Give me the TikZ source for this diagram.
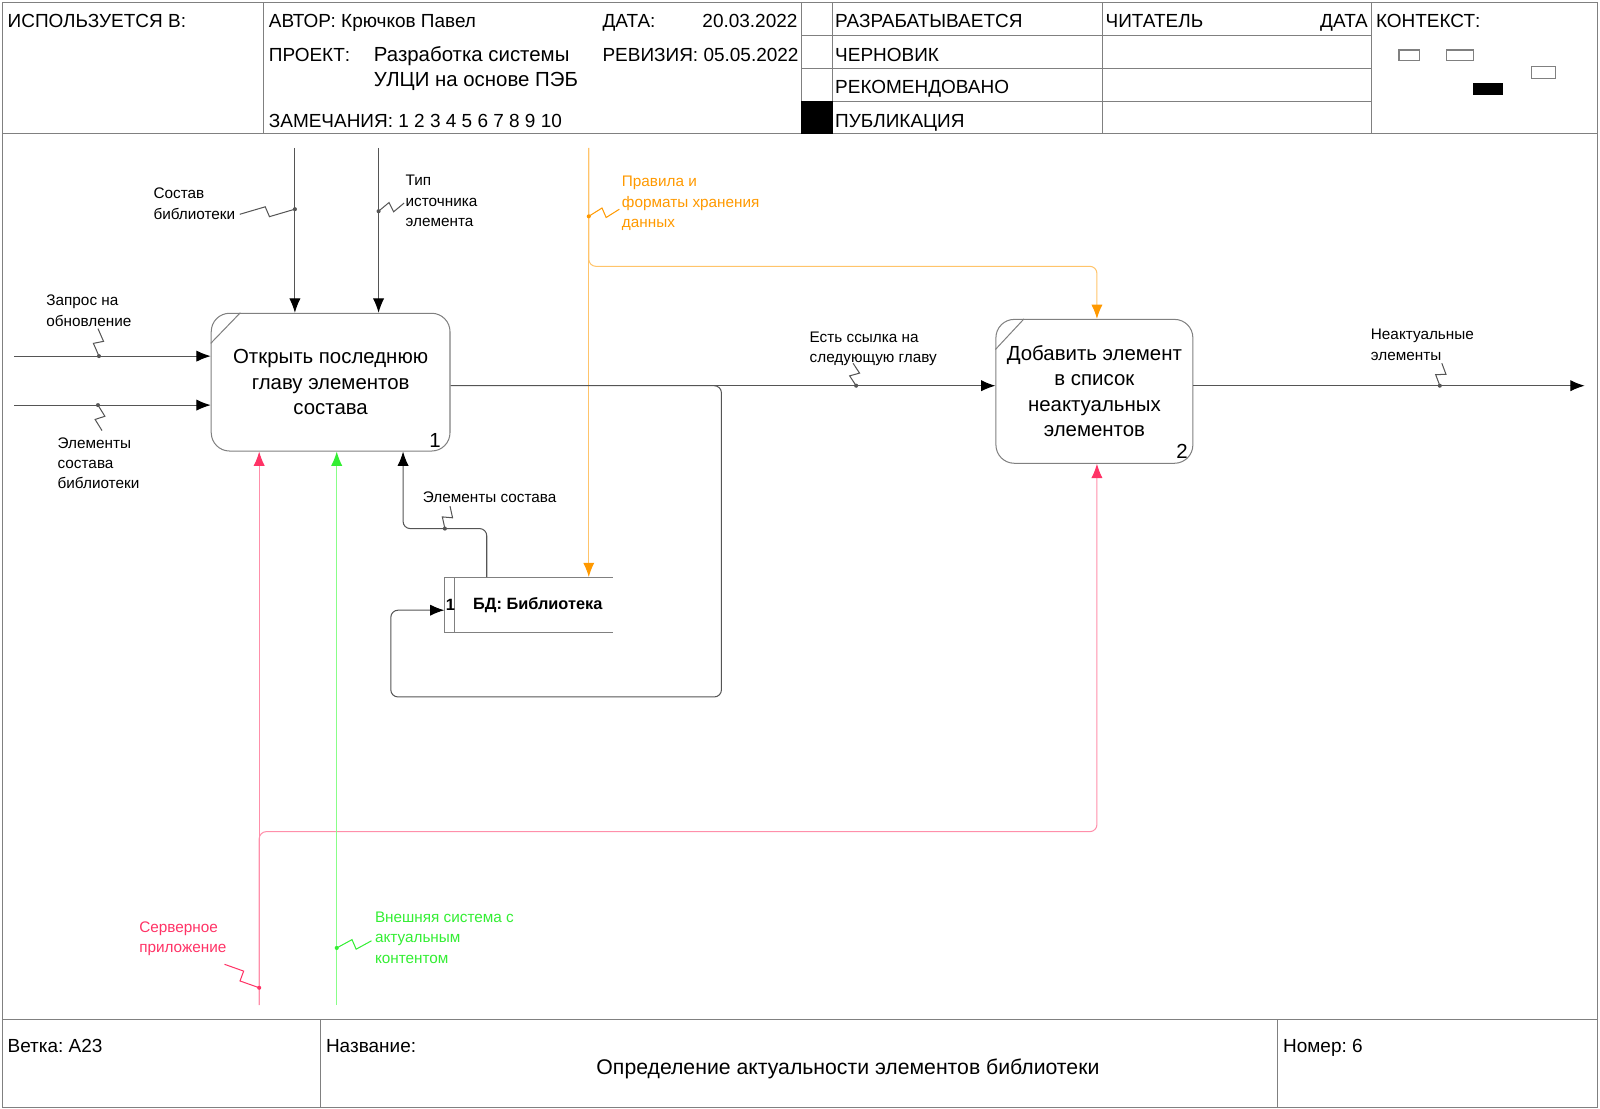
\documentclass[tikz,border=0pt]{standalone}
\usepackage{fontspec}
\setmainfont{Liberation Sans}
\usepackage{tikz}
\usetikzlibrary{calc}
\usetikzlibrary{arrows.meta}
\tikzset{>={Latex[length=7pt,width=5.5pt]}}
\frenchspacing
\definecolor{mygray}{HTML}{808080}
\definecolor{myline}{HTML}{555555}
\definecolor{myorange}{HTML}{FF9900}
\definecolor{myorangeline}{HTML}{FFC46B}
\definecolor{mypink}{HTML}{FF3366}
\definecolor{mypinkline}{HTML}{FF8FAA}
\definecolor{mygreen}{HTML}{33EE33}
\definecolor{mygreenline}{HTML}{88FF88}
\newcommand{\hdrfont}{\fontsize{9.3pt}{11pt}\selectfont}
\newcommand{\lblfont}{\fontsize{7.5pt}{10pt}\selectfont}
\newcommand{\boxfont}{\fontsize{10pt}{12.5pt}\selectfont}
\newcommand{\dbfont}{\fontsize{8pt}{10pt}\selectfont\bfseries}
% dot on the arrow and a zigzag leader to its label
\newcommand{\squig}[3][myline]{%
  \fill[#1] (#2) circle (1pt);
  \draw[#1] (#2) -- ($(#2)!.47!(#3)!2.5pt!90:(#3)$) -- ($(#2)!.53!(#3)!2.5pt!-90:(#3)$) -- (#3);}
\begin{document}
\begin{tikzpicture}[x=0.5pt,y=-0.5pt,line width=0.5pt,
  hdr/.style={anchor=base west,inner sep=0pt,font=\hdrfont},
  lbl/.style={anchor=west,inner sep=0pt,align=left,font=\lblfont},
  proc/.style={draw=mygray,rounded corners=9pt,align=center,font=\boxfont,inner sep=2pt},
  tbl/.style={mygray},
  flow/.style={myline,rounded corners=3.5pt,-{Latex[length=7pt,width=5.5pt,color=black]}},
  oflow/.style={myorangeline,rounded corners=3.5pt,-{Latex[length=7pt,width=5.5pt,color=myorange]}},
  pflow/.style={mypinkline,rounded corners=3.5pt,-{Latex[length=7pt,width=5.5pt,color=mypink]}},
  gflow/.style={mygreenline,rounded corners=3.5pt,-{Latex[length=7pt,width=5.5pt,color=mygreen]}}]
  \useasboundingbox (0,0) rectangle (1568,1086);
  \draw[tbl] (2,2) rectangle (1566,1085);

  % header
  \draw[tbl] (2,131) -- (1566,131);
  \foreach \x in {258,785,816,1080,1344}
    \draw[tbl] (\x,2) -- (\x,131);
  \foreach \y in {35,67,99}
    \draw[tbl] (785,\y) -- (1344,\y);
  \fill (785,99) rectangle (816,131);
  \draw[tbl] (1371,49) rectangle (1391,59);
  \draw[tbl] (1418,49) rectangle (1444,59);
  \draw[tbl] (1501,65) rectangle (1524,77);
  \fill (1444,81) rectangle (1473,93);

  \node[hdr] (used) at (7,27) {ИСПОЛЬЗУЕТСЯ В:};
  \node[hdr] (author) at (263,27) {АВТОР: Крючков Павел};
  \node[hdr] (date) at (590,27) {ДАТА:};
  \node[hdr,anchor=base east] (dateval) at (782,27) {20.03.2022};
  \node[hdr] (project) at (263,60) {ПРОЕКТ:};
  \node[hdr,font=\boxfont] (projA) at (366,60) {Разработка системы};
  \node[hdr,font=\boxfont] (projB) at (366,85) {УЛЦИ на основе ПЭБ};
  \node[hdr] (rev) at (590,60) {РЕВИЗИЯ: 05.05.2022};
  \node[hdr] (notes) at (263,125) {ЗАМЕЧАНИЯ: 1 2 3 4 5 6 7 8 9 10};
  \node[hdr] (stA) at (818,27) {РАЗРАБАТЫВАЕТСЯ};
  \node[hdr] (stB) at (818,60) {ЧЕРНОВИК};
  \node[hdr] (stC) at (818,92) {РЕКОМЕНДОВАНО};
  \node[hdr] (stD) at (818,125) {ПУБЛИКАЦИЯ};
  \node[hdr] (reader) at (1083,27) {ЧИТАТЕЛЬ};
  \node[hdr,anchor=base east] (rdate) at (1341,27) {ДАТА};
  \node[hdr] (context) at (1348,27) {КОНТЕКСТ:};

  % footer
  \draw[tbl] (2,999) -- (1566,999);
  \draw[tbl] (314,999) -- (314,1085);
  \draw[tbl] (1252,999) -- (1252,1085);
  \node[hdr] (branch) at (7,1031) {Ветка: A23};
  \node[hdr] (name) at (319,1031) {Название:};
  \node[hdr] (number) at (1257,1031) {Номер: 6};
  \node[anchor=base,inner sep=0pt,font=\fontsize{10.4pt}{12pt}\selectfont] (title) at (831,1053) {Определение актуальности элементов библиотеки};

  % activities
  \node[proc,minimum width=117pt,minimum height=67.5pt] (box1) at (324,374.5) {Открыть последнюю\\главу элементов\\состава};
  \node[proc,minimum width=96.5pt,minimum height=70.5pt] (box2) at (1072.5,383.5) {Добавить элемент\\в список\\неактуальных\\элементов};
  \draw[tbl] ($(box1.north west)+(0,30)$) -- ($(box1.north west)+(29,0)$);
  \draw[tbl] ($(box2.north west)+(0,30)$) -- ($(box2.north west)+(28,0)$);
  \node[anchor=base east,inner sep=0pt,font=\boxfont] (num1) at ($(box1.south east)+(-9,-4)$) {1};
  \node[anchor=base east,inner sep=0pt,font=\boxfont] (num2) at ($(box2.south east)+(-5,-5)$) {2};

  % data store
  \node[minimum width=82pt,minimum height=26.5pt,inner sep=0pt] (db) at (518,592.5) {};
  \draw[tbl] (db.north east) -- (db.north west) -- (db.south west) -- (db.south east);
  \draw[tbl] ($(db.north west)+(10,0)$) -- ($(db.south west)+(10,0)$);
  \node[anchor=west,inner sep=0pt,font=\dbfont] (dbnum) at ($(db.west)+(1,0)$) {1};
  \node[inner sep=0pt,font=\dbfont] (dbname) at (527,593) {БД: Библиотека};

  % free ends and bends
  \coordinate (ctlA) at (289,145);
  \coordinate (ctlB) at (371,145);
  \coordinate (ctlC) at (577,145);
  \coordinate (oA) at (577,261);
  \coordinate (oB) at (1075,261);
  \coordinate (inA) at (14,349);
  \coordinate (inB) at (14,397);
  \coordinate (lp) at (707,378);
  \coordinate (lpB) at (707,683);
  \coordinate (lpC) at (383,683);
  \coordinate (lpD) at (383,598);
  \coordinate (o1) at (box1.east |- lp);
  \coordinate (dbA) at (477,518);
  \coordinate (dbB) at (395,518);
  \coordinate (mecA) at (254,985);
  \coordinate (mecB) at (330,985);
  \coordinate (pA) at (254,815);
  \coordinate (pB) at (1075,815);
  \coordinate (outB) at (1553,378);

  % arrows
  \draw[flow] (ctlA) -- (ctlA |- box1.north);
  \draw[flow] (ctlB) -- (ctlB |- box1.north);
  \draw[oflow] (ctlC) -- (ctlC |- db.north);
  \draw[oflow] (ctlC) -- (oA) -- (oB) -- (oB |- box2.north);
  \draw[flow] (inA) -- (inA -| box1.west);
  \draw[flow] (inB) -- (inB -| box1.west);
  \draw[flow] (o1) -- (o1 -| box2.west);
  \draw[flow] (o1) -- (lp) -- (lpB) -- (lpC) -- (lpD) -- (lpD -| db.west);
  \draw[flow] (dbA |- db.north) -- (dbA) -- (dbB) -- (dbB |- box1.south);
  \draw[pflow] (mecA) -- (mecA |- box1.south);
  \draw[pflow] (mecA) -- (pA) -- (pB) -- (pB |- box2.south);
  \draw[gflow] (mecB) -- (mecB |- box1.south);
  \draw[flow] (box2.east |- outB) -- (outB);

  % labels
  \node[lbl] (lSostav) at (150,199.5) {Состав\\библиотеки};
  \node[lbl] (lTip) at (397,197) {Тип\\источника\\элемента};
  \node[lbl,myorange] (lRules) at (609,199.5) {Правила и\\форматы хранения\\данных};
  \node[lbl] (lZapros) at (45,304.5) {Запрос на\\обновление};
  \node[lbl] (lElBib) at (56,454) {Элементы\\состава\\библиотеки};
  \node[lbl] (lLink) at (793,342) {Есть ссылка на\\следующую главу};
  \node[lbl] (lNeakt) at (1343,338) {Неактуальные\\элементы};
  \node[lbl] (lElSost) at (414,487) {Элементы состава};
  \node[lbl,mypink] (lServer) at (136,920) {Серверное\\приложение};
  \node[lbl,mygreen] (lExt) at (367,919) {Внешняя система с\\актуальным\\контентом};

  \squig{289,205}{235,210}
  \squig{371,207}{396,199}
  \squig[myorange]{577,212}{607,205}
  \squig{97,349}{96,322}
  \squig{96,397}{100,422}
  \squig{839,378}{836,356}
  \squig{1411,378}{1413,356}
  \squig{436,518}{441,496}
  \squig[mypink]{254,968}{220,945}
  \squig[mygreen]{330,929}{364,922}
\end{tikzpicture}
\end{document}
